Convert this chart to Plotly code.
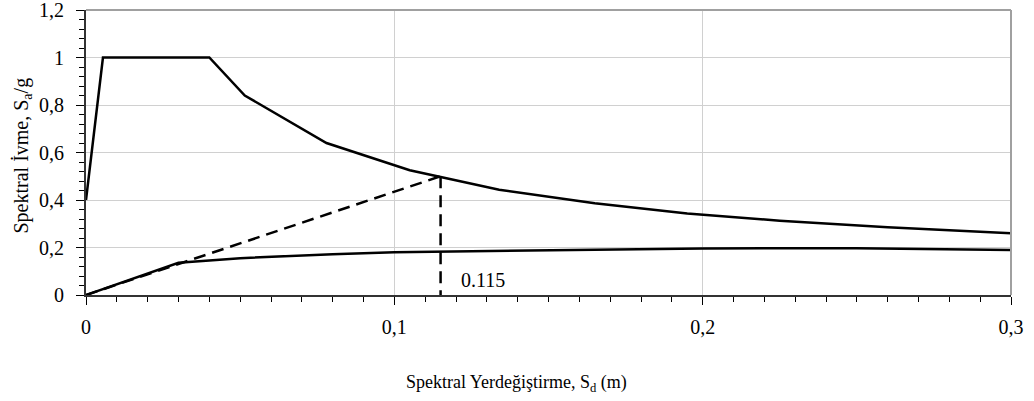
import plotly.graph_objects as go

# Demand spectrum (Sa/g vs Sd)
demand_sd = [0.0, 0.0055, 0.040, 0.0515, 0.078, 0.105, 0.134, 0.165, 0.195, 0.225, 0.260, 0.300]
demand_sa = [0.40, 1.00, 1.00, 0.840, 0.640, 0.525, 0.443, 0.386, 0.343, 0.313, 0.285, 0.260]

# Capacity curve
cap_sd = [0.0, 0.010, 0.020, 0.030, 0.050, 0.080, 0.100, 0.130, 0.160, 0.200, 0.250, 0.300]
cap_sa = [0.0, 0.045, 0.090, 0.136, 0.155, 0.172, 0.180, 0.185, 0.190, 0.196, 0.197, 0.190]

# Performance point
perf_sd = 0.115
perf_sa = 0.50
perf_label = "0.115"

x_ticks = [0, 0.1, 0.2, 0.3]
y_ticks = [0, 0.2, 0.4, 0.6, 0.8, 1.0, 1.2]

FONT = "Liberation Serif, Times New Roman, serif"

fig = go.Figure()
fig.add_trace(go.Scatter(x=demand_sd, y=demand_sa, mode="lines",
                         line=dict(color="black", width=2.5), showlegend=False))
fig.add_trace(go.Scatter(x=cap_sd, y=cap_sa, mode="lines",
                         line=dict(color="black", width=2.5), showlegend=False))
fig.add_trace(go.Scatter(x=[0, perf_sd], y=[0, perf_sa], mode="lines",
                         line=dict(color="black", width=2.5, dash="12px,7px"), showlegend=False))
fig.add_trace(go.Scatter(x=[perf_sd, perf_sd], y=[perf_sa, 0], mode="lines",
                         line=dict(color="black", width=2.5, dash="12px,7px"), showlegend=False))

fig.add_annotation(x=0.1288, y=0.063, text=perf_label, showarrow=False,
                   font=dict(family=FONT, size=20, color="black"))

# Axis titles
fig.add_annotation(xref="paper", yref="paper", x=0.465, y=-0.31, yanchor="middle",
                   text="Spektral Yerdeğiştirme, S<sub>d</sub> (m)", showarrow=False,
                   font=dict(family=FONT, size=18, color="black"))
fig.add_annotation(xref="paper", yref="paper", x=-0.069, y=0.49, xanchor="center", yanchor="middle",
                   text="Spektral İvme, S<sub>a</sub>/g", showarrow=False, textangle=-90,
                   font=dict(family=FONT, size=20, color="black"))

fig.update_layout(
    width=1034, height=401,
    margin=dict(l=86, r=23, t=10, b=106, autoexpand=False),
    paper_bgcolor="white", plot_bgcolor="white",
    separators=",.",
    font=dict(family=FONT, size=20, color="black"),
    shapes=[
        dict(type="line", xref="paper", yref="paper", x0=0, x1=1, y0=1, y1=1,
             line=dict(color="#a0a0a0", width=2)),
        dict(type="line", xref="paper", yref="paper", x0=1, x1=1, y0=0, y1=1,
             line=dict(color="#a0a0a0", width=2)),
    ],
)
fig.update_xaxes(
    range=[0, 0.3], tickvals=x_ticks, ticks="outside", ticklen=8, tickwidth=1, tickcolor="black",
    showgrid=True, gridcolor="#d0d0d0", gridwidth=1, zeroline=False, automargin=False,
    showline=True, linecolor="#333333", linewidth=2, ticklabeloverflow="allow",
    minor=dict(dtick=0.01, ticks="outside", ticklen=5, tickcolor="black", showgrid=False),
    tickfont=dict(family=FONT, size=20), ticklabelstandoff=5,
)
fig.update_yaxes(
    range=[0, 1.2], tickvals=y_ticks, ticks="outside", ticklen=8, tickwidth=1, tickcolor="black",
    showgrid=True, gridcolor="#d0d0d0", gridwidth=1, zeroline=False, automargin=False,
    showline=True, linecolor="#333333", linewidth=2, ticklabeloverflow="allow",
    minor=dict(dtick=0.04, ticks="outside", ticklen=5, tickcolor="black", showgrid=False),
    tickfont=dict(family=FONT, size=20), ticklabelstandoff=8,
)

fig.write_html("out.html")
